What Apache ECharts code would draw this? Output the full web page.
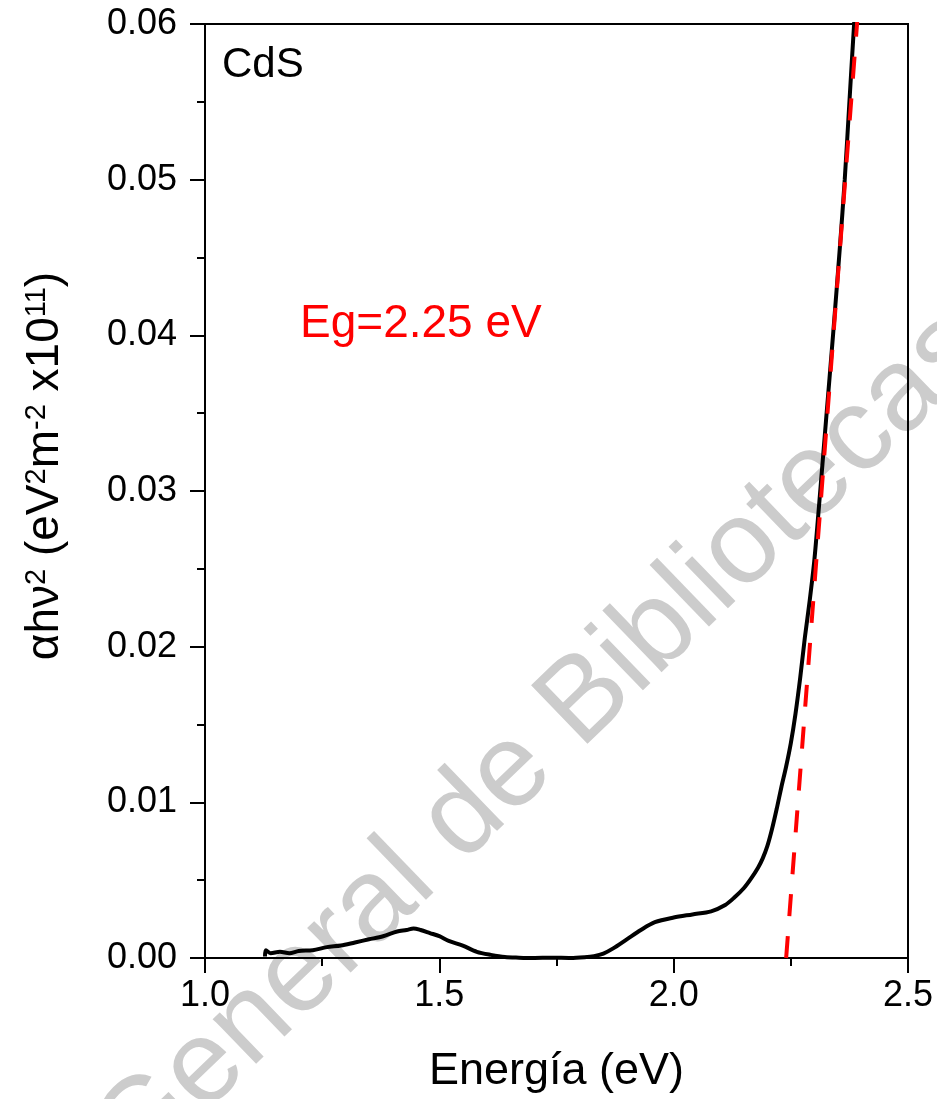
<!DOCTYPE html>
<html>
<head>
<meta charset="utf-8">
<script src="https://cdn.jsdelivr.net/npm/echarts@6/dist/echarts.min.js"></script>
<style>
  html, body { margin: 0; padding: 0; background: #fff; }
  #chart { width: 937px; height: 1099px; }
</style>
</head>
<body>
<div id="chart"></div>
<script>
const energy = [1.128, 1.13, 1.14, 1.16, 1.18, 1.2, 1.23, 1.26, 1.29, 1.32, 1.35, 1.38, 1.41, 1.43, 1.445,
    1.46, 1.48, 1.5, 1.52, 1.55, 1.58, 1.61, 1.64, 1.67, 1.7, 1.74, 1.78, 1.81, 1.83, 1.85, 1.87, 1.9,
    1.93, 1.96, 2.0, 2.04, 2.08, 2.11, 2.13, 2.15, 2.165, 2.18, 2.19, 2.2, 2.21, 2.22, 2.23, 2.24, 2.25,
    2.26, 2.27, 2.28, 2.29, 2.3, 2.31, 2.325, 2.34, 2.355, 2.365, 2.375, 2.385, 2.392];
const absorb = [0.0001, 0.0005, 0.0003, 0.0004, 0.0003, 0.00045, 0.0005, 0.0007, 0.0008, 0.001, 0.0012,
    0.0014, 0.0017, 0.0018, 0.0019, 0.0018, 0.0016, 0.0014, 0.0011, 0.0008, 0.0004, 0.0002, 0.00006,
    0.00002, 0.0, 0.00002, 0.0, 0.00005, 0.00012, 0.00028, 0.0006, 0.0012, 0.0018, 0.0023, 0.0026,
    0.0028, 0.003, 0.0034, 0.0039, 0.0045, 0.0051, 0.0058, 0.0064, 0.0072, 0.0083, 0.0096, 0.011,
    0.0123, 0.0138, 0.0157, 0.018, 0.0206, 0.0229, 0.0255, 0.029, 0.0345, 0.04, 0.0458, 0.05, 0.055,
    0.06, 0.063];

// linear fit (Tauc extrapolation)
const fitX = [2.24, 2.3925];
const fitY = [0, 0.0605];

const xTicks = [1.0, 2.5, 0.5];   // min, max, step
const yTicks = [0, 0.06, 0.01];

const FONT = 'Liberation Sans, Arial, sans-serif';
const WM_ANGLE = 44 * Math.PI / 180;

const chart = echarts.init(document.getElementById('chart'));

const option = {
    backgroundColor: '#fff',
    textStyle: { fontFamily: FONT },
    animation: false,
    grid: {
        left: 205,
        right: 29,
        top: 24,
        bottom: 139,
        show: true,
        borderColor: '#000',
        borderWidth: 2
    },
    graphic: [
        // watermark
        {
            type: 'text',
            x: 558, y: 727,
            rotation: WM_ANGLE,
            z: -10,
            silent: true,
            style: {
                text: 'Dirección General de ',
                font: '118px ' + FONT,
                fill: '#cccccc',
                align: 'right',
                verticalAlign: 'middle'
            }
        },
        {
            type: 'text',
            x: 558, y: 727,
            rotation: WM_ANGLE,
            z: -10,
            silent: true,
            style: {
                text: 'Bibliotecas UAQ',
                font: '118px ' + FONT,
                fill: '#cccccc',
                align: 'left',
                verticalAlign: 'middle'
            }
        },
        {
            type: 'text',
            left: 222, top: 44,
            style: { text: 'CdS', font: '42px ' + FONT, fill: '#000' }
        },
        {
            type: 'text',
            left: 300, top: 301,
            style: { text: 'Eg=2.25 eV', font: '46px ' + FONT, fill: '#ff0000' }
        }
    ],
    xAxis: {
        type: 'value',
        min: xTicks[0],
        max: xTicks[1],
        interval: xTicks[2],
        name: 'Energía (eV)',
        nameLocation: 'middle',
        nameGap: 91,
        nameTextStyle: { fontSize: 45, color: '#000', fontFamily: FONT },
        axisLine: { lineStyle: { color: '#000', width: 2 } },
        axisTick: { show: true, inside: false, length: 15, lineStyle: { color: '#000', width: 2 } },
        minorTick: { show: true, splitNumber: 2, length: 8, lineStyle: { color: '#000', width: 2 } },
        axisLabel: {
            fontSize: 36,
            color: '#000',
            margin: 20,
            formatter: v => v.toFixed(1)
        },
        splitLine: { show: false }
    },
    yAxis: {
        type: 'value',
        min: yTicks[0],
        max: yTicks[1],
        interval: yTicks[2],
        name: '{n|αhν}{s|2}{n| (eV}{s|2}{n|m}{s|-2}{n| x10}{s|11}{n|)}',
        nameLocation: 'middle',
        nameRotate: 90,
        nameGap: 137,
        nameTextStyle: {
            padding: [0, 0, 0, 50],
            rich: {
                n: { fontSize: 46, color: '#000', fontFamily: FONT, verticalAlign: 'bottom' },
                s: { fontSize: 29, color: '#000', fontFamily: FONT, verticalAlign: 'top' }
            }
        },
        axisLine: { lineStyle: { color: '#000', width: 2 } },
        axisTick: { show: true, inside: false, length: 15, lineStyle: { color: '#000', width: 2 } },
        minorTick: { show: true, splitNumber: 2, length: 8, lineStyle: { color: '#000', width: 2 } },
        axisLabel: {
            fontSize: 36,
            color: '#000',
            margin: 28,
            formatter: v => v.toFixed(2)
        },
        splitLine: { show: false }
    },
    series: [
        {
            name: 'CdS',
            type: 'line',
            data: energy.map((e, i) => [e, absorb[i]]),
            showSymbol: false,
            smooth: 0.3,
            clip: true,
            lineStyle: { color: '#000', width: 4 },
            z: 3
        },
        {
            name: 'fit',
            type: 'line',
            data: fitX.map((e, i) => [e, fitY[i]]),
            showSymbol: false,
            clip: true,
            lineStyle: { color: '#ff0000', width: 4, type: [22, 20] },
            z: 4
        }
    ]
};

chart.setOption(option);

window.addEventListener('resize', function () {
    chart.resize();
});
</script>
</body>
</html>
